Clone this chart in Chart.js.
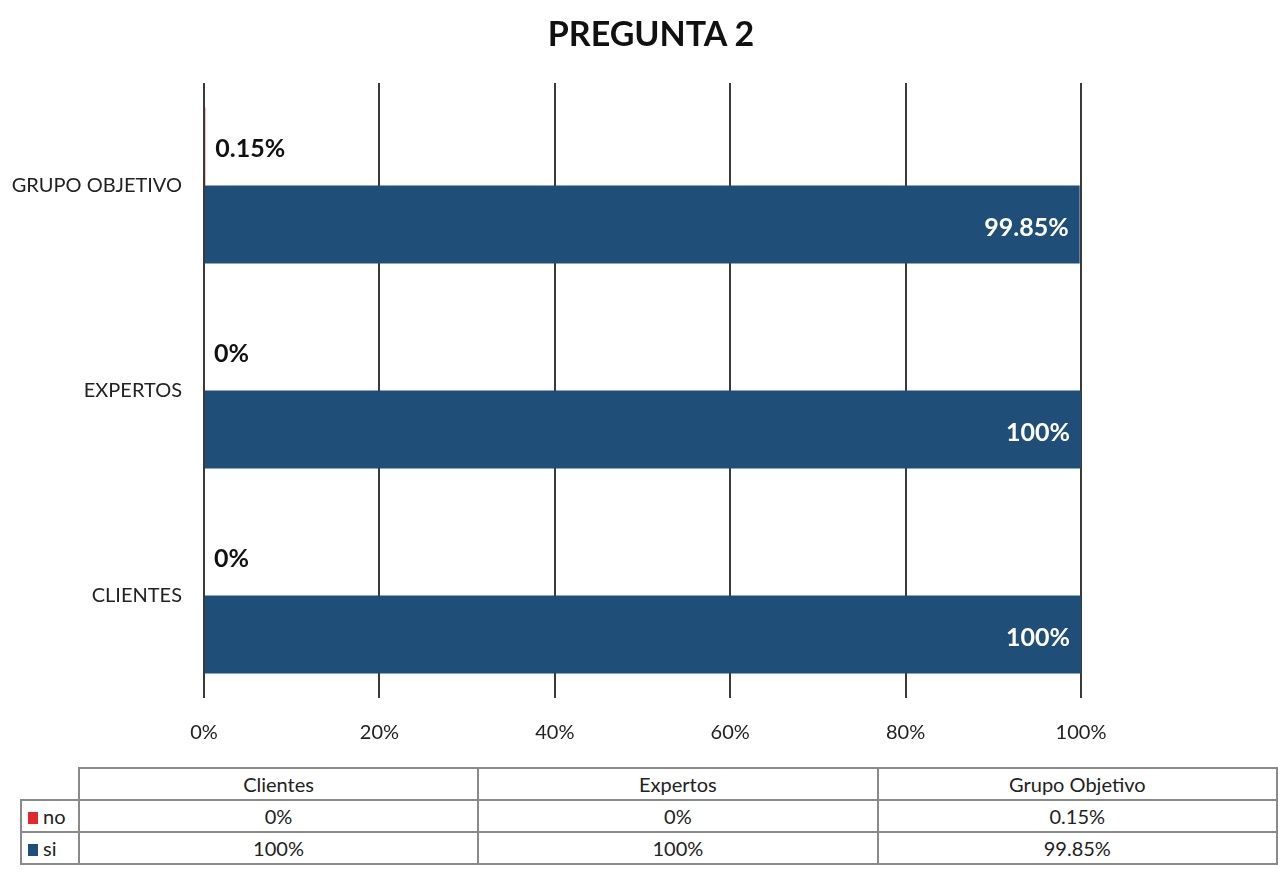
<!DOCTYPE html>
<html>
<head>
<meta charset="utf-8">
<script src="https://cdn.jsdelivr.net/npm/chart.js@4"></script>
<style>
  html, body { margin:0; padding:0; background:#fff; }
  body { width:1278px; height:878px; position:relative; overflow:hidden; font-family: Lato, "Open Sans", sans-serif; }
  #title { position:absolute; left:0; top:12px; width:1302px; text-align:center; font: bold 34px Lato, sans-serif; color:#111; }
  #wrap { position:absolute; left:0; top:0; width:1278px; height:760px; }
  table { position:absolute; left:20px; top:767px; border-collapse:collapse; font-family: Lato, sans-serif; font-size:20px; color:#222; }
  td { border:2px solid #8a8a8a; height:30px; padding:0; text-align:center; }
  td.blank { border:none; }
  td.leg { text-align:left; padding-left:6px; width:50px; }
  .sw { display:inline-block; width:10px; height:12px; margin-right:5px; vertical-align:0px; }
</style>
</head>
<body>
<div id="wrap"><canvas id="c" width="1278" height="760"></canvas></div>
<div id="title">PREGUNTA 2</div>
<table id="t"></table>
<script>
// Data (table order)
const categories = ['CLIENTES', 'EXPERTOS', 'GRUPO OBJETIVO'];
const tableNames = ['Clientes', 'Expertos', 'Grupo Objetivo'];
const noValues = [0, 0, 0.15];
const siValues = [100, 100, 99.85];
const xTickLabels = ['0%', '20%', '40%', '60%', '80%', '100%'];
const seriesNames = ['no', 'si'];
const colors = { no: '#e3262b', si: '#1f4e79' };

function fmt(v) { return v + '%'; }

// chart order: top to bottom
const chartLabels = categories.slice().reverse();
const chartNo = noValues.slice().reverse();
const chartSi = siValues.slice().reverse();

const labelPlugin = {
  id: 'valLabels',
  afterDatasetsDraw(chart) {
    const ctx = chart.ctx;
    ctx.save();
    ctx.textBaseline = 'middle';
    ctx.font = 'bold 25px Lato, sans-serif';
    chart.data.datasets.forEach((ds, di) => {
      const meta = chart.getDatasetMeta(di);
      meta.data.forEach((bar, i) => {
        const v = ds.data[i];
        if (di === 0) {
          ctx.fillStyle = '#111';
          ctx.textAlign = 'left';
          ctx.fillText(fmt(v), bar.x + 10, bar.y + 2);
        } else {
          ctx.fillStyle = '#ffffff';
          ctx.textAlign = 'right';
          ctx.fillText(fmt(v), bar.x - 11, bar.y + 3);
        }
      });
    });
    ctx.restore();
  }
};

new Chart(document.getElementById('c'), {
  type: 'bar',
  data: {
    labels: chartLabels,
    datasets: [
      { label: seriesNames[0], data: chartNo, backgroundColor: colors.no },
      { label: seriesNames[1], data: chartSi, backgroundColor: colors.si }
    ]
  },
  options: {
    indexAxis: 'y',
    responsive: false,
    animation: false,
    layout: { padding: { left: 0, right: 197, top: 83, bottom: 0 } },
    categoryPercentage: 0.76,
    barPercentage: 1.0,
    plugins: {
      legend: { display: false },
      tooltip: { enabled: false },
      title: { display: false }
    },
    scales: {
      x: {
        min: 0, max: 100,
        ticks: {
          stepSize: 20,
          color: '#222',
          font: { family: 'Lato, sans-serif', size: 20 },
          padding: 23,
          callback: (v, i) => xTickLabels[i]
        },
        grid: { color: '#3a3a3a', lineWidth: 2, drawTicks: false },
        border: { display: false },
        afterFit(s) { s.height = 62; }
      },
      y: {
        ticks: {
          color: '#222',
          font: { family: 'Lato, sans-serif', size: 20 },
          padding: 22
        },
        grid: { display: false, drawTicks: false },
        border: { display: false },
        afterFit(s) { s.width = 204; }
      }
    }
  },
  plugins: [labelPlugin]
});

// Data table
const t = document.getElementById('t');
let html = '<tr><td class="blank"></td>' + tableNames.map(n => '<td style="width:399px">' + n + '</td>').join('') + '</tr>';
[[seriesNames[0], noValues, colors.no], [seriesNames[1], siValues, colors.si]].forEach(([name, vals, col]) => {
  html += '<tr><td class="leg"><span class="sw" style="background:' + col + '"></span>' + name + '</td>' +
    vals.map(v => '<td>' + fmt(v) + '</td>').join('') + '</tr>';
});
t.innerHTML = html;
</script>
</body>
</html>
